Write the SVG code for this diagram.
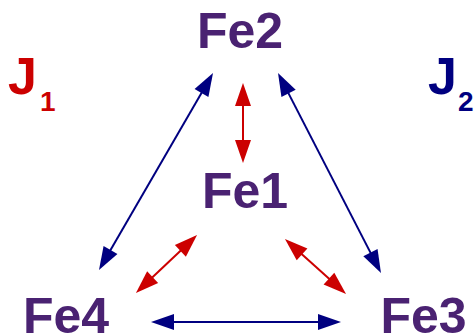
<svg xmlns="http://www.w3.org/2000/svg" width="476" height="335" viewBox="0 0 476 335">
  <style>
    .fe { font-family: "Liberation Sans", Arial, sans-serif; font-weight: bold; font-size: 50px; fill: #4a2272; text-anchor: middle; }
    .j { font-family: "Liberation Sans", Arial, sans-serif; font-weight: bold; font-size: 52px; }
    .sub { font-family: "Liberation Sans", Arial, sans-serif; font-weight: bold; font-size: 28px; }
    .j1 { fill: #cc0000; }
    .j2 { fill: #000080; }
    .blue { stroke: #000080; stroke-width: 2; fill: none; marker-start: url(#headBlue); marker-end: url(#headBlue); }
    .red { stroke: #cc0000; stroke-width: 2; fill: none; marker-start: url(#headRed); marker-end: url(#headRed); }
  </style>
  <defs>
    <marker id="headBlue" viewBox="0 -8 23 16" markerWidth="23" markerHeight="16" refX="13" refY="0" markerUnits="userSpaceOnUse" orient="auto-start-reverse" overflow="visible">
      <path d="M0,-8 L23,0 L0,8 z" fill="#000080"/>
    </marker>
    <marker id="headRed" viewBox="0 -8 23 16" markerWidth="23" markerHeight="16" refX="13" refY="0" markerUnits="userSpaceOnUse" orient="auto-start-reverse" overflow="visible">
      <path d="M0,-8 L23,0 L0,8 z" fill="#cc0000"/>
    </marker>
  </defs>

  <!-- exchange paths: J2 (blue) outer triangle, J1 (red) to the centre -->
  <g id="connectors">
    <line class="blue" x1="208" y1="81.7" x2="104" y2="261.3"/>
    <line class="blue" x1="282.6" y1="81.9" x2="376.4" y2="264.1"/>
    <line class="blue" x1="161" y1="322" x2="331" y2="322"/>
    <line class="red" x1="243" y1="93" x2="243" y2="153"/>
    <line class="red" x1="189.8" y1="241.9" x2="143.2" y2="286.1"/>
    <line class="red" x1="292.4" y1="245.7" x2="338.6" y2="287.3"/>
  </g>

  <g id="fe2"><text class="fe" x="240" y="48">Fe2</text></g>
  <g id="fe1"><text class="fe" x="245" y="208">Fe1</text></g>
  <g id="fe4"><text class="fe" x="66" y="333">Fe4</text></g>
  <g id="fe3"><text class="fe" x="423.5" y="333">Fe3</text></g>

  <g id="j1">
    <text class="j j1" x="8" y="94">J</text>
    <text class="sub j1" x="40" y="111">1</text>
  </g>
  <g id="j2">
    <text class="j j2" x="428" y="94">J</text>
    <text class="sub j2" x="458" y="111">2</text>
  </g>
</svg>
